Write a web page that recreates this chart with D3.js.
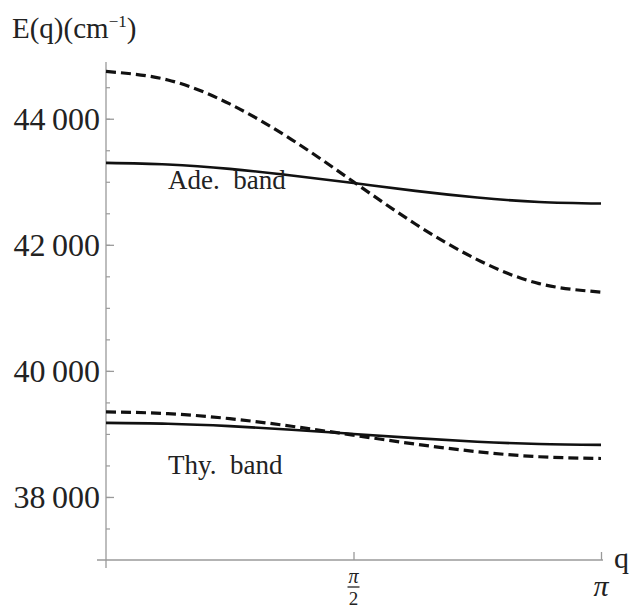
<!DOCTYPE html>
<html>
<head>
<meta charset="utf-8">
<script src="https://cdnjs.cloudflare.com/ajax/libs/d3/7.8.5/d3.min.js"></script>
<style>
  body { margin: 0; background: #fff; }
  svg text { font-family: "Liberation Serif", "Times New Roman", serif; fill: #222; }
</style>
</head>
<body>
<div id="chart"></div>
<script>
// q samples (0 .. pi) and band energies (cm^-1)
var qVals = [0, Math.PI/8, Math.PI/4, 3*Math.PI/8, Math.PI/2, 5*Math.PI/8, 3*Math.PI/4, 7*Math.PI/8, Math.PI];
var adeSolid  = [43300, 43275, 43205, 43100, 42980, 42855, 42750, 42680, 42655];
var adeDashed = [44750, 44615, 44235, 43670, 43000, 42330, 41765, 41385, 41250];
var thySolid  = [39175, 39162, 39124, 39067, 39000, 38933, 38876, 38840, 38827];
var thyDashed = [39350, 39322, 39242, 39122, 38980, 38838, 38718, 38638, 38610];

var yMajor = [38000, 40000, 42000, 44000];
var yMinor = d3.range(37500, 44600, 500);
var xTicks = [Math.PI/2, Math.PI];

var width = 637, height = 612;
var x = d3.scaleLinear().domain([0, Math.PI]).range([106, 601]);
var y = d3.scaleLinear().domain([37000, 44900]).range([560, 62]);

var svg = d3.select("#chart").append("svg")
  .attr("width", width)
  .attr("height", height);

var axisColor = "#9a9a9a";

// axis lines (with small overhang)
svg.append("line")
  .attr("x1", x(0)).attr("x2", x(0))
  .attr("y1", y.range()[1]).attr("y2", y(37000) + 8)
  .style("stroke", axisColor).style("stroke-width", 1.3);
svg.append("line")
  .attr("x1", x(0) - 9).attr("x2", x(Math.PI) + 2)
  .attr("y1", y(37000)).attr("y2", y(37000))
  .style("stroke", axisColor).style("stroke-width", 1.3);

// minor y ticks
var yMinorAxis = d3.axisLeft(y).tickValues(yMinor).tickSize(-4).tickFormat("");
var gMinor = svg.append("g").attr("transform", "translate(" + x(0) + ",0)").call(yMinorAxis);
gMinor.select(".domain").remove();
gMinor.selectAll("line").style("stroke", axisColor).style("stroke-width", 1.2);

// major y ticks with labels
var yAxis = d3.axisLeft(y).tickValues(yMajor).tickSize(-8).tickPadding(6)
  .tickFormat(function(d) { return d3.format("d")(d).replace(/(\d\d)(\d\d\d)$/, "$1\u2009$2"); });
var gY = svg.append("g").attr("transform", "translate(" + x(0) + ",0)").call(yAxis);
gY.attr("font-family", null).attr("font-size", null);
gY.select(".domain").remove();
gY.selectAll("line").style("stroke", axisColor).style("stroke-width", 1.3);
gY.selectAll("text")
  .style("font-size", "32px")
  .attr("dy", "0.34em")
  .attr("fill", "#222");

// x ticks
var xAxis = d3.axisBottom(x).tickValues(xTicks).tickSize(-8).tickFormat("");
var gX = svg.append("g").attr("transform", "translate(0," + y(37000) + ")").call(xAxis);
gX.select(".domain").remove();
gX.selectAll("line").style("stroke", axisColor).style("stroke-width", 1.3);

// x tick labels: pi/2 as fraction, pi
var half = x(Math.PI/2);
svg.append("text").attr("x", half).attr("y", 583).attr("text-anchor", "middle")
  .style("font-size", "20px").style("font-style", "italic").text("\u03c0");
svg.append("line").attr("x1", half - 6).attr("x2", half + 6).attr("y1", 587).attr("y2", 587)
  .style("stroke", "#222").style("stroke-width", 1.3);
svg.append("text").attr("x", half).attr("y", 605).attr("text-anchor", "middle")
  .style("font-size", "19px").text("2");
svg.append("text").attr("x", x(Math.PI)).attr("y", 596).attr("text-anchor", "middle")
  .style("font-size", "30px").style("font-style", "italic").text("\u03c0");

// axis labels
svg.append("text").attr("x", 614).attr("y", 568)
  .style("font-size", "30px").text("q");
var yl = svg.append("text").attr("x", 12).attr("y", 38).style("font-size", "29px");
yl.append("tspan").text("E(q)(cm");
yl.append("tspan").attr("dy", -11).style("font-size", "17px").text("\u22121");
yl.append("tspan").attr("dy", 11).text(")");

// curves
var line = d3.line()
  .x(function(d, i) { return x(qVals[i]); })
  .y(function(d) { return y(d); })
  .curve(d3.curveNatural);

[[adeSolid, false], [adeDashed, true], [thySolid, false], [thyDashed, true]].forEach(function(s) {
  svg.append("path")
    .datum(s[0])
    .attr("d", line)
    .style("fill", "none")
    .style("stroke", "#111")
    .style("stroke-width", s[1] ? 3.2 : 2.6)
    .style("stroke-dasharray", s[1] ? "10,5" : null);
});

// band labels
svg.append("text").attr("x", 168).attr("y", 189)
  .style("font-size", "27px").attr("xml:space", "preserve").text("Ade.  band");
svg.append("text").attr("x", 168).attr("y", 474)
  .style("font-size", "27px").attr("xml:space", "preserve").text("Thy.  band");
</script>
</body>
</html>
